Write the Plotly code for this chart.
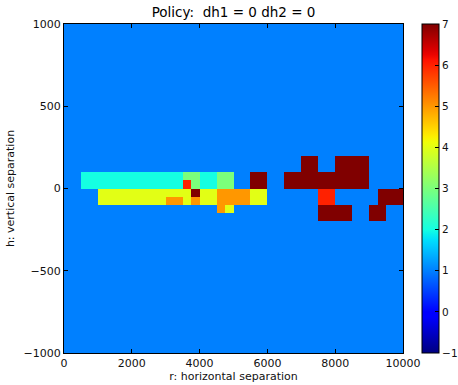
import numpy as np
import plotly.graph_objects as go

# ---- data ----
x_edges = [0, 500, 1000, 3000, 3500, 3750, 4000, 4500, 4750, 5000, 5500,
           6000, 6500, 7000, 7500, 8000, 8500, 9000, 9250, 9500, 10000]
y_edges = [-1000, -200, -150, -100, -50, 0, 50, 100, 200, 1000]

# rows from bottom (y=-1000) to top (y=1000); 20 columns each
row_m1000_m200 = [1, 1, 1, 1, 1, 1, 1, 1, 1, 1, 1, 1, 1, 1, 1, 1, 1, 1, 1, 1]
row_m200_m150  = [1, 1, 1, 1, 1, 1, 1, 1, 1, 1, 1, 1, 1, 1, 7, 7, 1, 7, 7, 1]
row_m150_m100  = [1, 1, 1, 1, 1, 1, 1, 5, 4, 1, 1, 1, 1, 1, 7, 7, 1, 7, 7, 1]
row_m100_m50   = [1, 1, 4, 5, 4, 5, 4, 5, 5, 5, 4, 1, 1, 1, 6, 1, 1, 1, 7, 7]
row_m50_0      = [1, 1, 4, 4, 4, 7, 4, 5, 5, 5, 4, 1, 1, 1, 6, 1, 1, 1, 7, 7]
row_0_50       = [1, 2, 2, 2, 6, 3, 2, 3, 3, 1, 7, 1, 7, 7, 7, 7, 7, 1, 1, 1]
row_50_100     = [1, 2, 2, 2, 3, 3, 2, 3, 3, 1, 7, 1, 7, 7, 7, 7, 7, 1, 1, 1]
row_100_200    = [1, 1, 1, 1, 1, 1, 1, 1, 1, 1, 1, 1, 1, 7, 1, 7, 7, 1, 1, 1]
row_200_1000   = [1, 1, 1, 1, 1, 1, 1, 1, 1, 1, 1, 1, 1, 1, 1, 1, 1, 1, 1, 1]

z_rows = [row_m1000_m200, row_m200_m150, row_m150_m100, row_m100_m50,
          row_m50_0, row_0_50, row_50_100, row_100_200, row_200_1000]

cbar_ticks = [-1, 0, 1, 2, 3, 4, 5, 6, 7]
x_ticks = [0, 2000, 4000, 6000, 8000, 10000]
x_tick_labels = ["0", "2000", "4000", "6000", "8000", "10000"]
y_ticks = [-1000, -500, 0, 500, 1000]
y_tick_labels = ["\u22121000", "\u2212500", "0", "500", "1000"]

# ---- matplotlib "jet" colormap ----
_jet = {
    'red': [(0, 0), (0.35, 0), (0.66, 1), (0.89, 1), (1, 0.5)],
    'green': [(0, 0), (0.125, 0), (0.375, 1), (0.64, 1), (0.91, 0), (1, 0)],
    'blue': [(0, 0.5), (0.11, 1), (0.34, 1), (0.65, 0), (1, 0)],
}


def _chan(name, t):
    pts = _jet[name]
    return float(np.interp(t, [p[0] for p in pts], [p[1] for p in pts]))


jet_scale = []
for t in np.linspace(0, 1, 65):
    r, g, b = (round(255 * _chan(c, t)) for c in ('red', 'green', 'blue'))
    jet_scale.append([float(t), f"rgb({r},{g},{b})"])

font = "DejaVu Sans, Arial, sans-serif"

fig = go.Figure(go.Heatmap(
    x=x_edges, y=y_edges, z=z_rows,
    zmin=-1, zmax=7, zsmooth=False,
    colorscale=jet_scale,
    colorbar=dict(
        tickvals=cbar_ticks, ticks="inside", ticklen=4, tickcolor="black",
        thickness=17, len=1, lenmode="fraction", y=0.5, yanchor="middle",
        x=1.056, xanchor="left", xpad=0, ypad=0,
        outlinewidth=1, outlinecolor="black",
        tickfont=dict(family=font, size=10.5, color="#111"),
    ),
    hoverinfo="skip",
))

axis_common = dict(
    showline=True, linecolor="black", linewidth=1, mirror="ticks",
    ticks="inside", ticklen=4, tickcolor="black", showgrid=False,
    zeroline=False, tickfont=dict(family=font, size=11, color="#111"),
)

fig.update_layout(
    width=458, height=385,
    margin=dict(l=64, r=55, t=24, b=32, autoexpand=False),
    paper_bgcolor="white", plot_bgcolor="white",
    title=dict(text="Policy:  dh1 = 0 dh2 = 0", x=0.5, xref="paper",
               xanchor="center", y=1 - 12 / 385, yref="container",
               yanchor="middle",
               font=dict(family=font, size=13.5, color="black")),
    xaxis=dict(range=[0, 10000], tickvals=x_ticks, ticktext=x_tick_labels,
               title=dict(text="r: horizontal separation", standoff=2,
                          font=dict(family=font, size=11, color="#111")),
               **axis_common),
    yaxis=dict(range=[-1000, 1000], tickvals=y_ticks, ticktext=y_tick_labels,
               title=dict(text="h: vertical separation", standoff=6,
                          font=dict(family=font, size=11, color="#111")),
               **axis_common),
)

fig.write_html("out.html")
